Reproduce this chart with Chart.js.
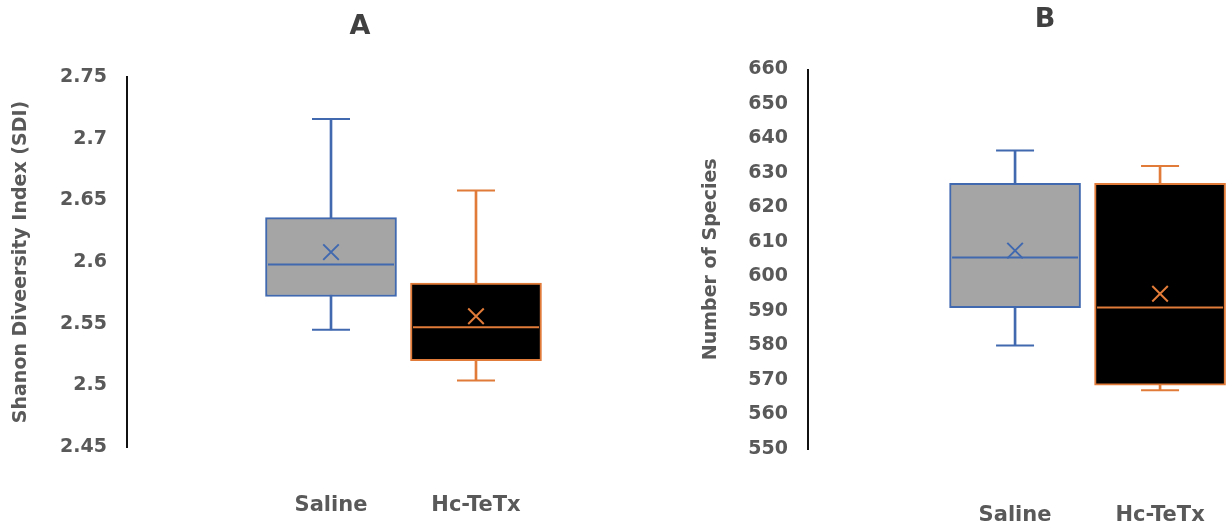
<!DOCTYPE html>
<html>
<head>
<meta charset="utf-8">
<script src="https://cdn.jsdelivr.net/npm/chart.js@4"></script>
<style>
  html, body { margin: 0; padding: 0; background: #fff; overflow: hidden; }
  #wrap { position: relative; width: 1230px; height: 527px; overflow: hidden; background: #fff; }
  #chartA { position: absolute; left: 0; top: 0; }
  #chartB { position: absolute; left: 690px; top: 0; }
</style>
</head>
<body>
<div id="wrap">
  <canvas id="chartA" width="615" height="527"></canvas>
  <canvas id="chartB" width="600" height="527"></canvas>
</div>
<script>
const groups = ['Saline', 'Hc-TeTx'];
const lineColors = ['#4169b0', '#e07b39'];
const boxFills = ['#a5a5a5', '#000000'];

// panel A - Shanon diversity index
const sdiMin = [2.545, 2.504];
const sdiQ1 = [2.572, 2.520];
const sdiMedian = [2.598, 2.547];
const sdiQ3 = [2.636, 2.583];
const sdiMax = [2.716, 2.658];
const sdiMean = [2.608, 2.556];
const sdiTicks = [2.45, 2.5, 2.55, 2.6, 2.65, 2.7, 2.75];

// panel B - number of species
const spMin = [580, 567];
const spQ1 = [591, 568.5];
const spMedian = [605.5, 591];
const spQ3 = [627, 627];
const spMax = [636.5, 632];
const spMean = [607.5, 595];
const spTicks = [550, 560, 570, 580, 590, 600, 610, 620, 630, 640, 650, 660];

const FONT = "'DejaVu Sans', sans-serif";
const TEXT = '#595959';

function boxChart(id, o) {
  const xs = groups.map((g, i) => i + 1);
  const capPts = [], capCols = [];
  xs.forEach((x, i) => {
    capPts.push({x: x, y: o.min[i]}, {x: x, y: o.max[i]});
    capCols.push(lineColors[i], lineColors[i]);
  });
  return new Chart(document.getElementById(id), {
    type: 'bar',
    data: {
      datasets: [
        {
          // whisker stems, hidden behind the box
          data: xs.map((x, i) => ({x: x, y: [o.min[i], o.max[i]]})),
          backgroundColor: lineColors,
          barThickness: 2,
          grouped: false,
          order: 4
        },
        {
          data: xs.map((x, i) => ({x: x, y: [o.q1[i], o.q3[i]]})),
          backgroundColor: boxFills,
          borderColor: lineColors,
          borderWidth: 2,
          borderSkipped: false,
          barThickness: 131,
          grouped: false,
          order: 3
        },
        {
          type: 'scatter',
          data: capPts,
          pointStyle: 'line',
          pointRadius: 19,
          pointBorderWidth: 2,
          pointBorderColor: capCols,
          order: 2
        },
        {
          type: 'scatter',
          data: xs.map((x, i) => ({x: x, y: o.median[i]})),
          pointStyle: 'line',
          pointRadius: 63,
          pointBorderWidth: 2,
          pointBorderColor: lineColors,
          order: 1
        },
        {
          type: 'scatter',
          data: xs.map((x, i) => ({x: x, y: o.mean[i]})),
          pointStyle: 'crossRot',
          pointRadius: 11,
          pointBorderWidth: 2,
          pointBorderColor: lineColors,
          order: 0
        }
      ]
    },
    options: {
      responsive: false,
      animation: false,
      layout: {
        autoPadding: false,
        padding: { left: 0, top: 0, right: o.padRight, bottom: 0 }
      },
      plugins: {
        legend: { display: false },
        tooltip: { enabled: false },
        title: {
          display: true,
          text: o.title,
          fullSize: false,
          color: '#404040',
          font: { family: FONT, size: 27, weight: 'bold' },
          padding: { top: o.titleTop, bottom: o.titleBottom }
        }
      },
      scales: {
        x: {
          type: 'linear',
          min: o.xMin,
          max: o.xMax,
          offset: false,
          afterBuildTicks: s => { s.ticks = xs.map(v => ({value: v})); },
          afterFit: s => { s.height = o.xHeight; },
          grid: { display: false, drawTicks: false },
          border: { display: false },
          ticks: {
            padding: o.labelPad,
            autoSkip: false,
            maxRotation: 0,
            color: TEXT,
            font: { family: FONT, size: 21, weight: 'bold' },
            callback: (v, i) => groups[i]
          }
        },
        y: {
          min: o.ticks[0],
          max: o.ticks[o.ticks.length - 1],
          afterBuildTicks: s => { s.ticks = o.ticks.map(v => ({value: v})); },
          afterFit: s => { s.width = o.axisWidth; },
          grid: { display: false, drawTicks: false },
          border: { display: true, color: '#111', width: 2 },
          ticks: {
            padding: 20,
            autoSkip: false,
            color: TEXT,
            font: { family: FONT, size: 19, weight: 'bold' },
            callback: v => String(v)
          },
          title: {
            display: true,
            text: o.yTitle,
            color: TEXT,
            font: { family: FONT, size: 19, weight: 'bold' },
            padding: { top: 9.6, bottom: 0 }
          }
        }
      }
    }
  });
}

boxChart('chartA', {
  title: 'A', yTitle: 'Shanon Diveersity Index (SDI)',
  min: sdiMin, q1: sdiQ1, median: sdiMedian, q3: sdiQ3, max: sdiMax, mean: sdiMean,
  ticks: sdiTicks,
  xMin: -0.407, xMax: 2.807, axisWidth: 127, padRight: 22, xHeight: 80,
  labelPad: 46, titleTop: 10.8, titleBottom: 33.8
});

boxChart('chartB', {
  title: 'B', yTitle: 'Number of Species',
  min: spMin, q1: spQ1, median: spMedian, q3: spQ3, max: spMax, mean: spMean,
  ticks: spTicks,
  xMin: -0.428, xMax: 2.841, axisWidth: 118, padRight: 8, xHeight: 78,
  labelPad: 54, titleTop: 3.8, titleBottom: 33.3
});
</script>
</body>
</html>
